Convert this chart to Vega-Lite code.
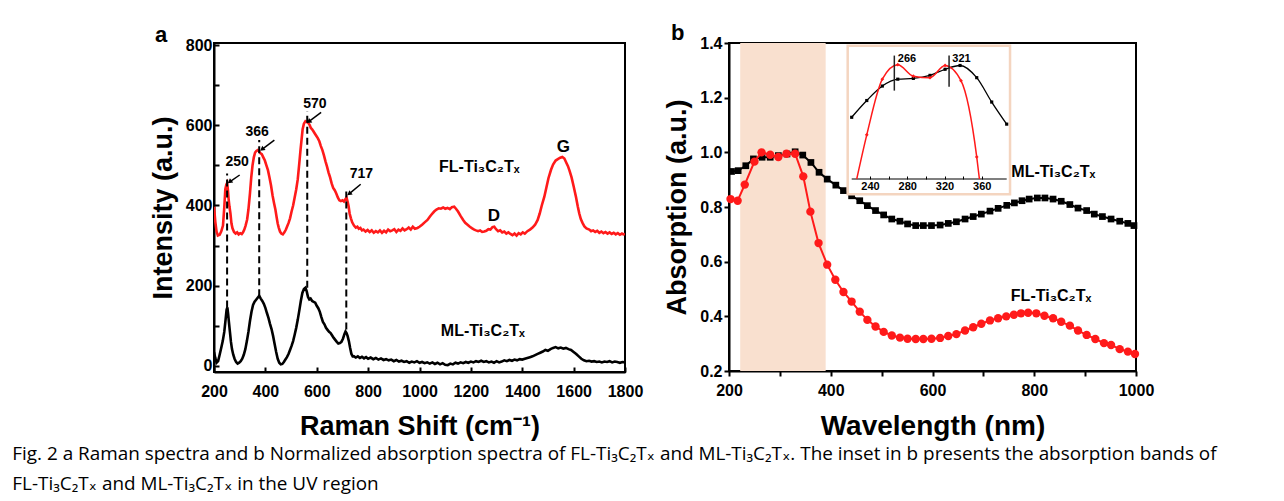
{
  "$schema": "https://vega.github.io/schema/vega-lite/v6.json",
  "background": "white",
  "padding": {"left": 12, "top": 21, "right": 5, "bottom": 5},
  "config": {
    "view": {"stroke": "black", "strokeWidth": 2},
    "axis": {"domainColor": "black", "domainWidth": 2, "tickColor": "black", "tickWidth": 2, "tickSize": 5, "labelFont": "Liberation Sans", "labelFontWeight": "bold", "labelFontSize": 16, "labelColor": "black", "titleFont": "Liberation Sans", "titleFontWeight": "bold", "titleColor": "black", "grid": false, "labelPadding": 3, "labelOverlap": false, "labelFlush": false}
  },
  "title": {
    "text": ["Fig. 2  a Raman spectra and b Normalized absorption spectra of FL-Ti₃C₂Tₓ and ML-Ti₃C₂Tₓ. The inset in b presents the absorption bands of", "FL-Ti₃C₂Tₓ and ML-Ti₃C₂Tₓ in the UV region"],
    "orient": "bottom", "anchor": "start", "frame": "bounds", "dx": -136, "offset": 4,
    "font": "Open Sans, DejaVu Sans", "fontSize": 18.9, "fontWeight": "normal", "color": "black", "lineHeight": 30
  },
  "datasets": {
    "ramanFL": [{"s":200,"i":397},{"s":205,"i":360},{"s":210,"i":335},{"s":215,"i":325},{"s":222,"i":327},{"s":228,"i":335},{"s":235,"i":350},{"s":240,"i":395},{"s":244,"i":440},{"s":248,"i":452},{"s":251,"i":456},{"s":254,"i":440},{"s":257,"i":415},{"s":260,"i":398},{"s":264,"i":380},{"s":268,"i":355},{"s":272,"i":343},{"s":278,"i":334},{"s":284,"i":330},{"s":290,"i":333},{"s":296,"i":328},{"s":302,"i":331},{"s":308,"i":329},{"s":313,"i":333},{"s":318,"i":340},{"s":323,"i":350},{"s":329,"i":365},{"s":334,"i":390},{"s":340,"i":430},{"s":345,"i":470},{"s":350,"i":500},{"s":355,"i":520},{"s":360,"i":532},{"s":365,"i":536},{"s":370,"i":538},{"s":375,"i":535},{"s":381,"i":530},{"s":386,"i":528},{"s":392,"i":520},{"s":398,"i":512},{"s":404,"i":500},{"s":410,"i":488},{"s":416,"i":470},{"s":422,"i":450},{"s":428,"i":425},{"s":434,"i":405},{"s":439,"i":390},{"s":444,"i":370},{"s":448,"i":355},{"s":452,"i":345},{"s":457,"i":335},{"s":462,"i":330},{"s":468,"i":328},{"s":474,"i":333},{"s":480,"i":340},{"s":485,"i":348},{"s":490,"i":356},{"s":496,"i":368},{"s":502,"i":385},{"s":508,"i":400},{"s":514,"i":420},{"s":520,"i":440},{"s":526,"i":465},{"s":532,"i":505},{"s":537,"i":540},{"s":541,"i":565},{"s":545,"i":590},{"s":550,"i":604},{"s":556,"i":610},{"s":562,"i":608},{"s":567,"i":606},{"s":572,"i":601},{"s":577,"i":593},{"s":582,"i":590},{"s":587,"i":585},{"s":593,"i":579},{"s":598,"i":574},{"s":604,"i":568},{"s":610,"i":560},{"s":616,"i":548},{"s":622,"i":538},{"s":628,"i":525},{"s":634,"i":510},{"s":640,"i":497},{"s":646,"i":482},{"s":652,"i":470},{"s":658,"i":455},{"s":664,"i":444},{"s":670,"i":438},{"s":676,"i":430},{"s":682,"i":420},{"s":688,"i":413},{"s":694,"i":411},{"s":700,"i":413},{"s":706,"i":410},{"s":711,"i":415},{"s":716,"i":420},{"s":720,"i":410},{"s":724,"i":398},{"s":728,"i":380},{"s":733,"i":368},{"s":738,"i":358},{"s":745,"i":350},{"s":752,"i":345},{"s":758,"i":347},{"s":764,"i":342},{"s":770,"i":344},{"s":776,"i":338},{"s":782,"i":340},{"s":790,"i":335},{"s":798,"i":339},{"s":806,"i":334},{"s":814,"i":338},{"s":822,"i":332},{"s":830,"i":336},{"s":838,"i":333},{"s":846,"i":338},{"s":854,"i":332},{"s":862,"i":337},{"s":870,"i":333},{"s":878,"i":340},{"s":886,"i":336},{"s":894,"i":338},{"s":902,"i":341},{"s":910,"i":334},{"s":918,"i":340},{"s":926,"i":337},{"s":934,"i":343},{"s":942,"i":338},{"s":950,"i":341},{"s":958,"i":345},{"s":966,"i":340},{"s":974,"i":347},{"s":982,"i":342},{"s":992,"i":344},{"s":1000,"i":347},{"s":1010,"i":352},{"s":1020,"i":358},{"s":1031,"i":364},{"s":1040,"i":372},{"s":1050,"i":380},{"s":1057,"i":385},{"s":1066,"i":390},{"s":1075,"i":393},{"s":1083,"i":392},{"s":1092,"i":395},{"s":1100,"i":392},{"s":1109,"i":394},{"s":1118,"i":391},{"s":1126,"i":396},{"s":1135,"i":397},{"s":1142,"i":392},{"s":1150,"i":385},{"s":1161,"i":373},{"s":1170,"i":364},{"s":1178,"i":357},{"s":1187,"i":352},{"s":1196,"i":347},{"s":1205,"i":343},{"s":1213,"i":340},{"s":1220,"i":338},{"s":1228,"i":336},{"s":1236,"i":338},{"s":1244,"i":334},{"s":1252,"i":335},{"s":1260,"i":337},{"s":1268,"i":341},{"s":1276,"i":340},{"s":1284,"i":346},{"s":1291,"i":347},{"s":1298,"i":341},{"s":1306,"i":336},{"s":1314,"i":338},{"s":1322,"i":333},{"s":1330,"i":335},{"s":1338,"i":330},{"s":1346,"i":333},{"s":1354,"i":329},{"s":1362,"i":326},{"s":1370,"i":330},{"s":1378,"i":325},{"s":1386,"i":331},{"s":1394,"i":328},{"s":1402,"i":333},{"s":1410,"i":330},{"s":1420,"i":336},{"s":1430,"i":340},{"s":1440,"i":345},{"s":1450,"i":352},{"s":1460,"i":364},{"s":1468,"i":380},{"s":1476,"i":400},{"s":1486,"i":422},{"s":1494,"i":445},{"s":1502,"i":468},{"s":1512,"i":489},{"s":1520,"i":502},{"s":1530,"i":512},{"s":1540,"i":516},{"s":1548,"i":519},{"s":1556,"i":521},{"s":1564,"i":517},{"s":1572,"i":506},{"s":1578,"i":498},{"s":1584,"i":487},{"s":1592,"i":470},{"s":1600,"i":448},{"s":1609,"i":422},{"s":1616,"i":398},{"s":1622,"i":380},{"s":1628,"i":366},{"s":1635,"i":356},{"s":1642,"i":348},{"s":1650,"i":343},{"s":1661,"i":340},{"s":1668,"i":336},{"s":1676,"i":338},{"s":1684,"i":334},{"s":1692,"i":337},{"s":1700,"i":332},{"s":1708,"i":335},{"s":1716,"i":331},{"s":1724,"i":334},{"s":1732,"i":330},{"s":1740,"i":333},{"s":1748,"i":329},{"s":1756,"i":332},{"s":1764,"i":328},{"s":1772,"i":331},{"s":1780,"i":327},{"s":1788,"i":330},{"s":1794,"i":328},{"s":1800,"i":329}],
    "ramanML": [{"s":200,"i":35},{"s":205,"i":20},{"s":210,"i":8},{"s":216,"i":12},{"s":222,"i":28},{"s":228,"i":45},{"s":234,"i":62},{"s":240,"i":85},{"s":245,"i":115},{"s":249,"i":140},{"s":252,"i":146},{"s":255,"i":130},{"s":258,"i":110},{"s":262,"i":85},{"s":266,"i":60},{"s":270,"i":42},{"s":275,"i":28},{"s":280,"i":18},{"s":286,"i":10},{"s":292,"i":6},{"s":298,"i":8},{"s":304,"i":12},{"s":310,"i":18},{"s":316,"i":28},{"s":322,"i":42},{"s":328,"i":62},{"s":334,"i":85},{"s":340,"i":112},{"s":346,"i":135},{"s":352,"i":152},{"s":358,"i":160},{"s":364,"i":165},{"s":370,"i":170},{"s":376,"i":175},{"s":382,"i":168},{"s":388,"i":162},{"s":394,"i":155},{"s":400,"i":145},{"s":406,"i":132},{"s":412,"i":120},{"s":418,"i":105},{"s":424,"i":92},{"s":430,"i":75},{"s":436,"i":55},{"s":442,"i":35},{"s":448,"i":18},{"s":454,"i":8},{"s":460,"i":4},{"s":466,"i":5},{"s":472,"i":10},{"s":478,"i":16},{"s":484,"i":22},{"s":490,"i":30},{"s":496,"i":40},{"s":502,"i":50},{"s":508,"i":62},{"s":514,"i":78},{"s":520,"i":95},{"s":526,"i":115},{"s":532,"i":138},{"s":538,"i":162},{"s":544,"i":182},{"s":550,"i":192},{"s":556,"i":195},{"s":561,"i":186},{"s":566,"i":172},{"s":571,"i":166},{"s":576,"i":168},{"s":582,"i":162},{"s":588,"i":160},{"s":594,"i":158},{"s":600,"i":150},{"s":606,"i":144},{"s":612,"i":135},{"s":618,"i":122},{"s":624,"i":110},{"s":630,"i":104},{"s":636,"i":95},{"s":642,"i":90},{"s":648,"i":85},{"s":654,"i":82},{"s":660,"i":76},{"s":666,"i":70},{"s":672,"i":65},{"s":678,"i":60},{"s":684,"i":56},{"s":690,"i":57},{"s":696,"i":60},{"s":702,"i":68},{"s":708,"i":80},{"s":712,"i":86},{"s":716,"i":82},{"s":720,"i":75},{"s":725,"i":62},{"s":730,"i":45},{"s":735,"i":30},{"s":740,"i":24},{"s":745,"i":24},{"s":752,"i":21},{"s":760,"i":24},{"s":768,"i":20},{"s":776,"i":23},{"s":784,"i":19},{"s":792,"i":22},{"s":800,"i":18},{"s":810,"i":21},{"s":820,"i":17},{"s":830,"i":20},{"s":840,"i":16},{"s":850,"i":19},{"s":860,"i":15},{"s":870,"i":17},{"s":880,"i":14},{"s":890,"i":16},{"s":900,"i":12},{"s":910,"i":15},{"s":920,"i":11},{"s":930,"i":13},{"s":940,"i":10},{"s":950,"i":12},{"s":960,"i":8},{"s":970,"i":11},{"s":980,"i":9},{"s":990,"i":12},{"s":1000,"i":8},{"s":1010,"i":10},{"s":1020,"i":7},{"s":1030,"i":9},{"s":1040,"i":6},{"s":1050,"i":9},{"s":1060,"i":5},{"s":1070,"i":8},{"s":1080,"i":4},{"s":1090,"i":7},{"s":1100,"i":3},{"s":1110,"i":2},{"s":1120,"i":6},{"s":1130,"i":4},{"s":1140,"i":8},{"s":1150,"i":6},{"s":1160,"i":9},{"s":1170,"i":7},{"s":1180,"i":10},{"s":1190,"i":8},{"s":1200,"i":11},{"s":1210,"i":9},{"s":1220,"i":12},{"s":1230,"i":10},{"s":1240,"i":13},{"s":1250,"i":10},{"s":1260,"i":12},{"s":1270,"i":9},{"s":1280,"i":11},{"s":1290,"i":8},{"s":1300,"i":12},{"s":1310,"i":9},{"s":1320,"i":11},{"s":1330,"i":14},{"s":1340,"i":12},{"s":1350,"i":15},{"s":1360,"i":13},{"s":1370,"i":16},{"s":1380,"i":14},{"s":1390,"i":17},{"s":1400,"i":16},{"s":1410,"i":18},{"s":1420,"i":20},{"s":1430,"i":22},{"s":1440,"i":24},{"s":1450,"i":27},{"s":1460,"i":30},{"s":1470,"i":33},{"s":1480,"i":36},{"s":1490,"i":40},{"s":1500,"i":38},{"s":1510,"i":42},{"s":1520,"i":45},{"s":1530,"i":47},{"s":1540,"i":44},{"s":1550,"i":46},{"s":1560,"i":43},{"s":1570,"i":45},{"s":1580,"i":42},{"s":1590,"i":40},{"s":1600,"i":35},{"s":1610,"i":30},{"s":1620,"i":24},{"s":1630,"i":18},{"s":1640,"i":14},{"s":1650,"i":12},{"s":1660,"i":13},{"s":1670,"i":11},{"s":1680,"i":12},{"s":1690,"i":10},{"s":1700,"i":11},{"s":1710,"i":9},{"s":1720,"i":11},{"s":1730,"i":10},{"s":1740,"i":12},{"s":1750,"i":9},{"s":1760,"i":11},{"s":1770,"i":10},{"s":1780,"i":8},{"s":1790,"i":10},{"s":1800,"i":9}],
    "peakLines": [{"s":251,"low":146,"high":480},{"s":376,"low":174,"high":563},{"s":563,"low":195,"high":634},{"s":715,"low":91,"high":435}],
    "arrows": [{"tailS":300,"tailI":476,"tipS":261,"tipI":459},{"tailS":435,"tailI":563,"tipS":387,"tipI":540},{"tailS":617,"tailI":632,"tipS":569,"tipI":609},{"tailS":771,"tailI":453,"tipS":726,"tipI":429}],
    "peakLabels": [{"t":"250","s":290,"i":509},{"t":"366","s":368,"i":584},{"t":"570","s":593,"i":654},{"t":"717","s":774,"i":478}],
    "bandLabels": [{"t":"G","s":1560,"i":547},{"t":"D","s":1290,"i":373}],
    "sampleLabelsA": [{"t":"FL-Ti₃C₂Tₓ","s":1076,"i":497},{"t":"ML-Ti₃C₂Tₓ","s":1083,"i":87}],
    "absFL": [{"w":203,"a":0.829},{"w":217,"a":0.823},{"w":231,"a":0.882},{"w":250,"a":0.966},{"w":264,"a":1.0},{"w":281,"a":0.991},{"w":297,"a":0.983},{"w":313,"a":0.995},{"w":330,"a":0.995},{"w":346,"a":0.912},{"w":360,"a":0.783},{"w":376,"a":0.668},{"w":393,"a":0.589},{"w":409,"a":0.534},{"w":425,"a":0.489},{"w":441,"a":0.454},{"w":457,"a":0.417},{"w":472,"a":0.387},{"w":488,"a":0.363},{"w":504,"a":0.343},{"w":520,"a":0.33},{"w":536,"a":0.322},{"w":551,"a":0.318},{"w":567,"a":0.317},{"w":582,"a":0.317},{"w":598,"a":0.318},{"w":615,"a":0.321},{"w":631,"a":0.328},{"w":647,"a":0.335},{"w":664,"a":0.348},{"w":680,"a":0.36},{"w":696,"a":0.373},{"w":713,"a":0.385},{"w":729,"a":0.393},{"w":745,"a":0.4},{"w":760,"a":0.406},{"w":774,"a":0.411},{"w":788,"a":0.413},{"w":804,"a":0.411},{"w":820,"a":0.402},{"w":837,"a":0.393},{"w":853,"a":0.38},{"w":870,"a":0.366},{"w":886,"a":0.348},{"w":903,"a":0.332},{"w":920,"a":0.317},{"w":937,"a":0.302},{"w":951,"a":0.295},{"w":968,"a":0.28},{"w":984,"a":0.271},{"w":998,"a":0.262}],
    "absML": [{"w":205,"a":0.93},{"w":218,"a":0.933},{"w":233,"a":0.951},{"w":248,"a":0.976},{"w":265,"a":0.982},{"w":281,"a":0.982},{"w":297,"a":0.988},{"w":314,"a":0.994},{"w":330,"a":1.002},{"w":345,"a":0.99},{"w":361,"a":0.963},{"w":377,"a":0.927},{"w":393,"a":0.902},{"w":410,"a":0.88},{"w":425,"a":0.86},{"w":441,"a":0.841},{"w":457,"a":0.823},{"w":472,"a":0.805},{"w":488,"a":0.787},{"w":504,"a":0.771},{"w":520,"a":0.756},{"w":536,"a":0.748},{"w":551,"a":0.738},{"w":567,"a":0.732},{"w":582,"a":0.732},{"w":598,"a":0.732},{"w":615,"a":0.734},{"w":631,"a":0.74},{"w":647,"a":0.746},{"w":664,"a":0.756},{"w":680,"a":0.765},{"w":696,"a":0.774},{"w":713,"a":0.785},{"w":729,"a":0.795},{"w":746,"a":0.806},{"w":761,"a":0.815},{"w":776,"a":0.823},{"w":790,"a":0.829},{"w":806,"a":0.833},{"w":821,"a":0.833},{"w":837,"a":0.829},{"w":853,"a":0.821},{"w":870,"a":0.809},{"w":886,"a":0.796},{"w":903,"a":0.787},{"w":918,"a":0.774},{"w":934,"a":0.765},{"w":951,"a":0.756},{"w":968,"a":0.748},{"w":984,"a":0.74},{"w":996,"a":0.732}],
    "sampleLabelsB": [{"t":"ML-Ti₃C₂Tₓ","w":755,"a":0.927},{"t":"FL-Ti₃C₂Tₓ","w":754,"a":0.475}],
    "insetFL": [{"w":225.7,"a":0.85},{"w":236.5,"a":0.908},{"w":253.2,"a":0.981},{"w":269.8,"a":1.0},{"w":286.5,"a":0.985},{"w":304.4,"a":0.983},{"w":320.6,"a":0.999},{"w":337.7,"a":0.979},{"w":354.6,"a":0.879},{"w":357.5,"a":0.85}],
    "insetML": [{"w":220.3,"a":0.931},{"w":236.5,"a":0.953},{"w":253.2,"a":0.972},{"w":269.8,"a":0.981},{"w":286.5,"a":0.982},{"w":304.4,"a":0.986},{"w":320.6,"a":0.994},{"w":336.7,"a":0.999},{"w":354.6,"a":0.983},{"w":370.7,"a":0.951},{"w":386.8,"a":0.922}],
    "insetMarks": [{"t":"266","w":266.1,"low":0.966,"high":1.012,"lw":269.8,"la":1.008},{"t":"321","w":324.9,"low":0.971,"high":1.012,"lw":328.4,"la":1.008}]
  },
  "hconcat": [
    {
      "width": 411, "height": 329,
      "title": {"text": "a", "anchor": "start", "frame": "group", "dx": -59, "offset": -10, "fontSize": 22, "font": "Liberation Sans", "fontWeight": "bold", "color": "black"},
      "layer": [
        {"data": {"name": "ramanFL"}, "mark": {"type": "line", "color": "#ff1a1a", "strokeWidth": 2.6, "clip": true},
         "encoding": {
           "x": {"field": "s", "type": "quantitative", "scale": {"domain": [200, 1800], "nice": false, "zero": false},
                 "axis": {"title": "Raman Shift (cm⁻¹)", "values": [200,300,400,500,600,700,800,900,1000,1100,1200,1300,1400,1500,1600,1700,1800], "format": "d", "labelExpr": "datum.value % 200 == 0 ? datum.label : ''", "tickSize": -5, "labelPadding": 16, "titleFontSize": 27, "titlePadding": 14}},
           "y": {"field": "i", "type": "quantitative", "scale": {"domain": [-15, 805], "nice": false, "zero": false},
                 "axis": {"title": "Intensity (a.u.)", "values": [0,100,200,300,400,500,600,700,800], "format": "d", "labelExpr": "datum.value % 200 == 0 ? datum.label : ''", "tickSize": -5, "labelPadding": 7, "titleFontSize": 27, "titlePadding": 8}}
         }},
        {"data": {"name": "ramanML"}, "mark": {"type": "line", "color": "black", "strokeWidth": 2.6, "clip": true},
         "encoding": {"x": {"field": "s", "type": "quantitative"}, "y": {"field": "i", "type": "quantitative"}}},
        {"data": {"name": "peakLines"}, "mark": {"type": "rule", "color": "black", "strokeWidth": 2, "strokeDash": [7, 4]},
         "encoding": {"x": {"field": "s", "type": "quantitative"}, "y": {"field": "low", "type": "quantitative"}, "y2": {"field": "high"}}},
        {"data": {"name": "arrows"}, "mark": {"type": "rule", "color": "black", "strokeWidth": 1.5},
         "encoding": {"x": {"field": "tailS", "type": "quantitative"}, "y": {"field": "tailI", "type": "quantitative"}, "x2": {"field": "tipS"}, "y2": {"field": "tipI"}}},
        {"data": {"name": "arrows"}, "mark": {"type": "point", "shape": "triangle-down", "filled": true, "color": "black", "size": 30, "angle": 53, "opacity": 1},
         "encoding": {"x": {"field": "tipS", "type": "quantitative"}, "y": {"field": "tipI", "type": "quantitative"}}},
        {"data": {"name": "peakLabels"}, "mark": {"type": "text", "font": "Liberation Sans", "fontWeight": "bold", "fontSize": 14, "color": "black"},
         "encoding": {"x": {"field": "s", "type": "quantitative"}, "y": {"field": "i", "type": "quantitative"}, "text": {"field": "t"}}},
        {"data": {"name": "bandLabels"}, "mark": {"type": "text", "font": "Liberation Sans", "fontWeight": "bold", "fontSize": 17, "color": "black"},
         "encoding": {"x": {"field": "s", "type": "quantitative"}, "y": {"field": "i", "type": "quantitative"}, "text": {"field": "t"}}},
        {"data": {"name": "sampleLabelsA"}, "mark": {"type": "text", "font": "Liberation Sans, DejaVu Sans", "fontWeight": "bold", "fontSize": 16, "color": "black", "align": "left"},
         "encoding": {"x": {"field": "s", "type": "quantitative"}, "y": {"field": "i", "type": "quantitative"}, "text": {"field": "t"}}}
      ]
    },
    {
      "width": 407, "height": 328,
      "title": {"text": "b", "anchor": "start", "frame": "group", "dx": -58, "offset": -10, "fontSize": 22, "font": "Liberation Sans", "fontWeight": "bold", "color": "black"},
      "layer": [
        {
          "layer": [
            {"data": {"values": [{"start": 222, "end": 390}]}, "mark": {"type": "rect", "color": "#f9e0cf"},
             "encoding": {
               "x": {"field": "start", "type": "quantitative", "scale": {"domain": [200, 1000], "nice": false, "zero": false},
                     "axis": {"title": "Wavelength (nm)", "values": [200,300,400,500,600,700,800,900,1000], "format": "d", "labelExpr": "datum.value % 200 == 0 ? datum.label : ''", "tickSize": 5, "labelPadding": 6, "titleFontSize": 28, "titlePadding": 14}},
               "x2": {"field": "end"}
             }},
            {"data": {"name": "absML"}, "mark": {"type": "line", "color": "black", "strokeWidth": 2, "point": {"shape": "square", "size": 45, "filled": true, "color": "black", "opacity": 1}},
             "encoding": {
               "x": {"field": "w", "type": "quantitative"},
               "y": {"field": "a", "type": "quantitative", "scale": {"domain": [0.2, 1.4], "nice": false, "zero": false},
                     "axis": {"title": "Absorption (a.u.)", "values": [0.2,0.3,0.4,0.5,0.6,0.7,0.8,0.9,1.0,1.1,1.2,1.3,1.4], "format": ".1f", "labelExpr": "indexof(['0.2','0.4','0.6','0.8','1.0','1.2','1.4'], format(datum.value, '.1f')) >= 0 ? format(datum.value, '.1f') : ''", "tickSize": 5, "labelPadding": 2, "titleFontSize": 27, "titlePadding": 8}}
             }},
            {"data": {"name": "absFL"}, "mark": {"type": "line", "color": "#ff1a1a", "strokeWidth": 2, "point": {"shape": "circle", "size": 70, "filled": true, "color": "#ff1a1a", "opacity": 1}},
             "encoding": {"x": {"field": "w", "type": "quantitative"}, "y": {"field": "a", "type": "quantitative"}}},
            {"data": {"name": "sampleLabelsB"}, "mark": {"type": "text", "font": "Liberation Sans, DejaVu Sans", "fontWeight": "bold", "fontSize": 16, "color": "black", "align": "left"},
             "encoding": {"x": {"field": "w", "type": "quantitative"}, "y": {"field": "a", "type": "quantitative"}, "text": {"field": "t"}}}
          ]
        },
        {
          "layer": [
            {"data": {"values": [{"x1": 216, "x2": 390.4, "y1": 0.83, "y2": 1.025}]}, "mark": {"type": "rect", "fill": "white", "stroke": "#f4d5c0", "strokeWidth": 2.5},
             "encoding": {
               "x": {"field": "x1", "type": "quantitative", "scale": {"domain": [88.5, 525.7], "nice": false, "zero": false},
                     "axis": {"orient": "bottom", "offset": -192, "zindex": 2, "values": [240,260,280,300,320,340,360], "labelExpr": "datum.value % 40 == 0 ? datum.label : ''", "domain": false, "tickSize": -3, "tickWidth": 1, "labelFontSize": 11, "labelPadding": 4, "title": null}},
               "x2": {"field": "x2"},
               "y": {"field": "y1", "type": "quantitative", "scale": {"domain": [0.598, 1.0285], "nice": false, "zero": false}, "axis": null},
               "y2": {"field": "y2"}
             }},
            {"data": {"values": [{"x1": 220.3, "x2": 386.8, "y": 0.85}]}, "mark": {"type": "rule", "color": "black", "strokeWidth": 1.2},
             "encoding": {"x": {"field": "x1", "type": "quantitative"}, "x2": {"field": "x2"}, "y": {"field": "y", "type": "quantitative"}}},
            {"data": {"name": "insetML"}, "mark": {"type": "line", "color": "black", "strokeWidth": 1.3, "interpolate": "monotone"},
             "encoding": {"x": {"field": "w", "type": "quantitative"}, "y": {"field": "a", "type": "quantitative"}}},
            {"data": {"name": "insetML"}, "mark": {"type": "point", "shape": "square", "filled": true, "color": "black", "size": 10, "opacity": 1},
             "encoding": {"x": {"field": "w", "type": "quantitative"}, "y": {"field": "a", "type": "quantitative"}}},
            {"data": {"name": "insetFL"}, "mark": {"type": "line", "color": "#ff1a1a", "strokeWidth": 1.5, "interpolate": "monotone"},
             "encoding": {"x": {"field": "w", "type": "quantitative"}, "y": {"field": "a", "type": "quantitative"}}},
            {"data": {"name": "insetFL"}, "transform": [{"filter": "datum.a > 0.86"}], "mark": {"type": "point", "shape": "diamond", "filled": true, "color": "#ff1a1a", "size": 14, "opacity": 1},
             "encoding": {"x": {"field": "w", "type": "quantitative"}, "y": {"field": "a", "type": "quantitative"}}},
            {"data": {"name": "insetMarks"}, "mark": {"type": "rule", "color": "#222222", "strokeWidth": 1.5},
             "encoding": {"x": {"field": "w", "type": "quantitative"}, "y": {"field": "low", "type": "quantitative"}, "y2": {"field": "high"}}},
            {"data": {"name": "insetMarks"}, "mark": {"type": "text", "font": "Liberation Sans", "fontWeight": "bold", "fontSize": 11, "color": "black", "align": "left"},
             "encoding": {"x": {"field": "lw", "type": "quantitative"}, "y": {"field": "la", "type": "quantitative"}, "text": {"field": "t"}}}
          ]
        }
      ],
      "resolve": {"scale": {"x": "independent", "y": "independent"}}
    }
  ],
  "spacing": 18
}
